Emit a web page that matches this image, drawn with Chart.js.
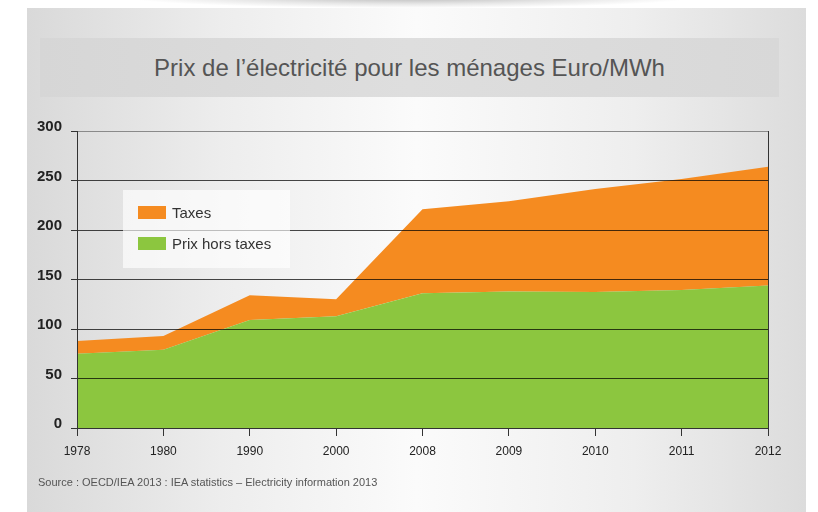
<!DOCTYPE html>
<html>
<head>
<meta charset="utf-8">
<script src="https://cdn.jsdelivr.net/npm/chart.js@4.4.0/dist/chart.umd.min.js"></script>
<style>
  html, body { margin: 0; padding: 0; background: #fff; }
  #page { position: relative; width: 818px; height: 512px; overflow: hidden; background: #fff; }
  #panel {
    position: absolute; left: 27px; top: 8px; width: 779px; height: 504px;
    background: linear-gradient(to right, #d9d9d9 0%, #ededed 25%, #fbfbfb 50%, #eeeeee 78%, #dcdcdc 100%);
  }
  #shadow {
    position: absolute; left: 130px; top: -14px; width: 560px; height: 22px;
    background: radial-gradient(ellipse at center, rgba(120,120,120,0.55) 0%, rgba(160,160,160,0.25) 45%, rgba(255,255,255,0) 72%);
  }
  #titlebox {
    position: absolute; left: 40px; top: 38px; width: 739px; height: 59px;
    background: linear-gradient(to right, #d6d6d6 0%, #dedede 50%, #d8d8d8 100%);
    color: #555; font-family: "Liberation Sans", sans-serif;
    font-size: 24px; line-height: 59px; text-align: center;
  }
  #source {
    position: absolute; left: 38px; top: 476px; color: #555;
    font-family: "Liberation Sans", sans-serif; font-size: 11px;
  }
  #legend {
    position: absolute; left: 123px; top: 190px; width: 167px; height: 78px;
    background: rgba(255,255,255,0.65);
    font-family: "Liberation Sans", sans-serif; font-size: 15px; color: #333;
  }
  .item { position: absolute; left: 15px; height: 14px; line-height: 14px; white-space: nowrap; }
  .sw { display: inline-block; width: 28px; height: 13px; vertical-align: top; margin-right: 6px; }
  canvas { position: absolute; left: 0; top: 0; }
</style>
</head>
<body>
<div id="page">
  <div id="shadow"></div>
  <div id="panel"></div>
  <div id="titlebox">Prix de l’électricité pour les ménages Euro/MWh</div>
  <canvas id="chart" width="818" height="512"></canvas>
  <div id="legend">
    <div class="item" style="top:16px"><span class="sw" style="background:#f58b20"></span>Taxes</div>
    <div class="item" style="top:47px"><span class="sw" style="background:#8cc63f"></span>Prix hors taxes</div>
  </div>
  <div id="source">Source : OECD/IEA 2013 : IEA statistics – Electricity information 2013</div>
</div>
<script>
var years = ["1978", "1980", "1990", "2000", "2008", "2009", "2010", "2011", "2012"];
var prixHorsTaxes = [75, 79, 109, 113, 136, 138, 137.5, 139.5, 144];
var taxes = [13, 14, 25, 17, 85, 91, 104, 112, 120];
var yTicks = [0, 50, 100, 150, 200, 250, 300];

var ctx = document.getElementById("chart").getContext("2d");
var myChart = new Chart(ctx, {
  type: "line",
  data: {
    labels: years,
    datasets: [
      {
        label: "Prix hors taxes",
        data: prixHorsTaxes,
        fill: "origin",
        backgroundColor: "#8cc63f",
        borderWidth: 0,
        pointRadius: 0,
        tension: 0,
      },
      {
        label: "Taxes",
        data: taxes,
        fill: "-1",
        backgroundColor: "#f58b20",
        borderWidth: 0,
        pointRadius: 0,
        tension: 0,
      },
    ],
  },
  options: {
    responsive: false,
    animation: false,
    layout: { padding: { top: 131, right: 50, left: 0, bottom: 0 } },
    scales: {
      x: {
        offset: false,
        afterFit: function (scale) { scale.height = 84; },
        border: { display: true, color: "#333", width: 1, z: 2 },
        grid: {
          z: 2,
          color: function (c) { return c.index === years.length - 1 ? "#333" : "rgba(0,0,0,0)"; },
          tickColor: "#333",
          tickLength: 8,
        },
        ticks: {
          color: "#222",
          font: { family: "Liberation Sans", size: 12 },
          padding: 8,
          maxRotation: 0,
        },
      },
      y: {
        stacked: true,
        min: 0,
        max: 300,
        afterFit: function (scale) { scale.width = 77; },
        afterBuildTicks: function (scale) {
          scale.ticks = yTicks.map(function (v) { return { value: v }; });
        },
        border: { display: true, color: "#333", width: 1, z: 2 },
        grid: {
          z: 1,
          color: function (c) { return c.tick && c.tick.value === 300 ? "#8a8a8a" : "rgba(0,0,0,0.72)"; },
          tickColor: "#333",
          tickLength: 6,
        },
        ticks: {
          color: "#222",
          font: { family: "Liberation Sans", size: 15, weight: "bold" },
          padding: 9,
          labelOffset: -4,
        },
      },
    },
    plugins: {
      legend: { display: false },
      tooltip: { enabled: false },
    },
  },
});
</script>
</body>
</html>
